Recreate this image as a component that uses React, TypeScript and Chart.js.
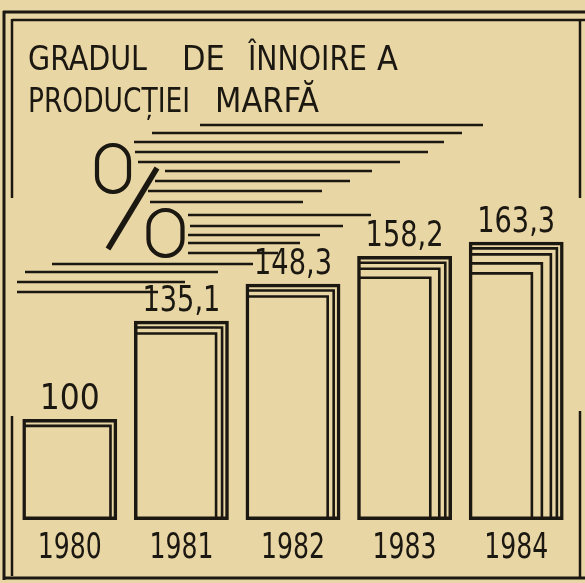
import React, { useEffect, useRef } from 'react';
import { Chart, registerables } from 'chart.js';

Chart.register(...registerables);

// ---- data ----
const years = ['1980', '1981', '1982', '1983', '1984'];
const values = [100, 135.1, 148.3, 158.2, 163.3];
const pageLayers = [1, 2, 2, 3, 4];
const titleLine1 = ['GRADUL', 'DE', 'ÎNNOIRE', 'A'];
const titleLine2 = ['PRODUCȚIEI', 'MARFĂ'];
const Y_MIN = 64;
const Y_MAX = 196;

// ---- styles ----
const PAPER = '#e9d6a5';
const INK = '#1b1711';
const FONT = "'DejaVu Sans Condensed', 'DejaVu Sans', sans-serif";
const LAYER_OFFSETS = [5, 11, 20, 30];
// title word placement: [x, maxWidth]
const TITLE1_POS = [[28, 119], [182, 45], [248, 119], [377, 25]];
const TITLE2_POS = [[28, 162], [215, 125]];

// decorative speed lines of the "%" emblem: [y, x1, x2]
const SPEED_LINES: number[][] = [
  [125, 200, 483], [133, 152, 462], [142, 130, 444], [152, 135, 428],
  [162, 138, 400], [171, 165, 372], [181, 155, 350], [191, 148, 322],
  [202, 150, 303], [215, 183, 371], [226, 190, 343], [235, 187, 320],
  [243, 187, 300], [253, 183, 278], [264, 52, 253], [272, 25, 218],
  [282, 17, 185], [292, 17, 158],
];

const fmt = (v: number) => String(v).replace('.', ',');

const paperPlugin = {
  id: 'paper',
  beforeDraw(chart: any) {
    const ctx = chart.ctx;
    ctx.save();
    ctx.fillStyle = PAPER;
    ctx.fillRect(0, 0, chart.width, chart.height);
    ctx.restore();
  },
};

const decorPlugin = {
  id: 'decor',
  afterDraw(chart: any) {
    const ctx = chart.ctx;
    ctx.save();
    ctx.strokeStyle = INK;
    ctx.fillStyle = INK;
    ctx.lineCap = 'butt';

    const seg = (x1: number, y1: number, x2: number, y2: number, w: number) => {
      ctx.lineWidth = w;
      ctx.beginPath();
      ctx.moveTo(x1, y1);
      ctx.lineTo(x2, y2);
      ctx.stroke();
    };
    // frame
    seg(3, 12, 585, 12, 3);
    seg(4, 11, 4, 580, 3);
    seg(3, 578, 585, 578, 3);
    seg(12, 20, 585, 20, 2.5);
    seg(12, 19, 12, 198, 2.5);
    seg(12, 416, 12, 576, 2.5);
    seg(580, 19, 580, 198, 2.5);
    seg(580, 411, 580, 577, 2.5);

    // title
    ctx.font = `34px ${FONT}`;
    ctx.textBaseline = 'alphabetic';
    ctx.textAlign = 'left';
    titleLine1.forEach((w, i) => ctx.fillText(w, TITLE1_POS[i][0], 70, TITLE1_POS[i][1]));
    titleLine2.forEach((w, i) => ctx.fillText(w, TITLE2_POS[i][0], 112, TITLE2_POS[i][1]));

    // speed lines
    SPEED_LINES.forEach(([y, x1, x2]) => seg(x1, y, x2, y, 2.3));

    // percent sign
    ctx.fillStyle = PAPER;
    ctx.fillRect(92, 140, 42, 57);
    ctx.fillRect(143, 205, 45, 56);
    ctx.lineWidth = 4.2;
    ctx.beginPath();
    (ctx as any).roundRect(97, 145, 32, 47, 16);
    ctx.stroke();
    ctx.beginPath();
    (ctx as any).roundRect(148.5, 210, 34, 46, 17);
    ctx.stroke();
    ctx.lineWidth = 5.5;
    ctx.beginPath();
    ctx.moveTo(157, 168);
    ctx.lineTo(108, 249);
    ctx.stroke();

    // category (year) labels, placed by the x scale
    const xScale = chart.scales.x;
    ctx.fillStyle = INK;
    ctx.font = `36px ${FONT}`;
    ctx.textAlign = 'center';
    years.forEach((yr, i) => {
      ctx.fillText(yr, xScale.getPixelForValue(i), chart.chartArea.bottom + 38, 64);
    });
    ctx.restore();
  },
  afterDatasetsDraw(chart: any) {
    const ctx = chart.ctx;
    const meta = chart.getDatasetMeta(0);
    ctx.save();
    ctx.strokeStyle = INK;
    ctx.fillStyle = INK;
    meta.data.forEach((bar: any, i: number) => {
      const { x, y, base, width } = bar.getProps(['x', 'y', 'base', 'width'], true);
      const left = x - width / 2 + 1.75;
      const right = x + width / 2 - 1.75;
      const top = y + 1.75;
      const bottom = base - 1.75;
      ctx.lineWidth = 2.6;
      for (let k = 0; k < pageLayers[i]; k++) {
        const off = LAYER_OFFSETS[k];
        ctx.beginPath();
        ctx.moveTo(left, top + off);
        ctx.lineTo(right - off, top + off);
        ctx.lineTo(right - off, bottom);
        ctx.stroke();
      }
      ctx.font = `35px ${FONT}`;
      ctx.textAlign = 'center';
      ctx.textBaseline = 'alphabetic';
      ctx.fillText(fmt(values[i]), x, y - 10, 78);
    });
    ctx.restore();
  },
};

export default function App() {
  const ref = useRef<HTMLCanvasElement | null>(null);
  useEffect(() => {
    document.body.style.margin = '0';
    const canvas = ref.current!;
    const chart = new Chart(canvas, {
      type: 'bar',
      data: {
        labels: years,
        datasets: [
          {
            data: values,
            base: Y_MIN,
            backgroundColor: 'rgba(0,0,0,0)',
            borderColor: INK,
            borderWidth: 3.5,
            borderSkipped: false,
            categoryPercentage: 1,
            barPercentage: 0.85,
          } as any,
        ],
      },
      options: {
        animation: false,
        responsive: false,
        devicePixelRatio: 1,
        layout: { padding: { top: 150, left: 14, right: 13, bottom: 63 } },
        plugins: { legend: { display: false }, tooltip: { enabled: false }, title: { display: false } },
        scales: {
          x: {
            grid: { display: false, drawTicks: false },
            border: { display: false },
            ticks: { display: false },
          },
          y: { display: false, min: Y_MIN, max: Y_MAX },
        },
      },
      plugins: [paperPlugin, decorPlugin],
    });
    return () => chart.destroy();
  }, []);
  return (
    <div style={{ width: 585, height: 583 }}>
      <canvas ref={ref} width={585} height={583} style={{ display: 'block' }} />
    </div>
  );
}
